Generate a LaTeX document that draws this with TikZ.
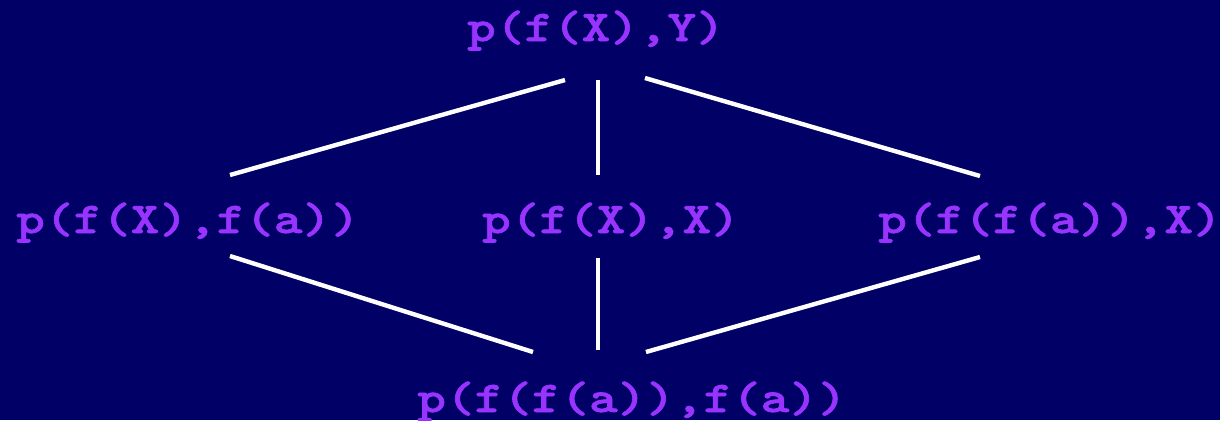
\documentclass[tikz,border=0pt]{standalone}
\usepackage{fontspec}
\newfontfamily\termfont{lmmonolt10-bold.otf}[FakeBold=1.4,FakeStretch=1.24]
\definecolor{bgnavy}{RGB}{0,0,102}
\definecolor{termpurple}{RGB}{153,51,255}
\begin{document}
\begin{tikzpicture}[x=0.01cm,y=-0.01cm,
  term/.style={anchor=base,inner sep=0pt,text=termpurple,font=\termfont\fontsize{12.5}{15}\selectfont},
  edge/.style={draw=white,line width=1.25pt}]
\fill[bgnavy] (0,0) rectangle (1220,420);
\useasboundingbox (0,0) rectangle (1220,420);
\node[term] (top) at (596,41) {p(f(X),Y)};
\node[term] (left) at (188,233) {p(f(X),f(a))};
\node[term] (mid) at (611,233) {p(f(X),X)};
\node[term] (right) at (1050,233) {p(f(f(a)),X)};
\node[term] (bot) at (632,412) {p(f(f(a)),f(a))};
\coordinate (tA) at (565,80);
\coordinate (tB) at (598,80);
\coordinate (tC) at (645,78);
\coordinate (lU) at (230,175);
\coordinate (mU) at (598,175);
\coordinate (rU) at (980,176);
\coordinate (lD) at (230,256);
\coordinate (mD) at (598,258);
\coordinate (rD) at (980,257);
\coordinate (bA) at (533,352);
\coordinate (bB) at (598,350);
\coordinate (bC) at (646,352);
\draw[edge] (tA) -- (lU);
\draw[edge] (tB) -- (mU);
\draw[edge] (tC) -- (rU);
\draw[edge] (lD) -- (bA);
\draw[edge] (mD) -- (bB);
\draw[edge] (rD) -- (bC);
\end{tikzpicture}
\end{document}
